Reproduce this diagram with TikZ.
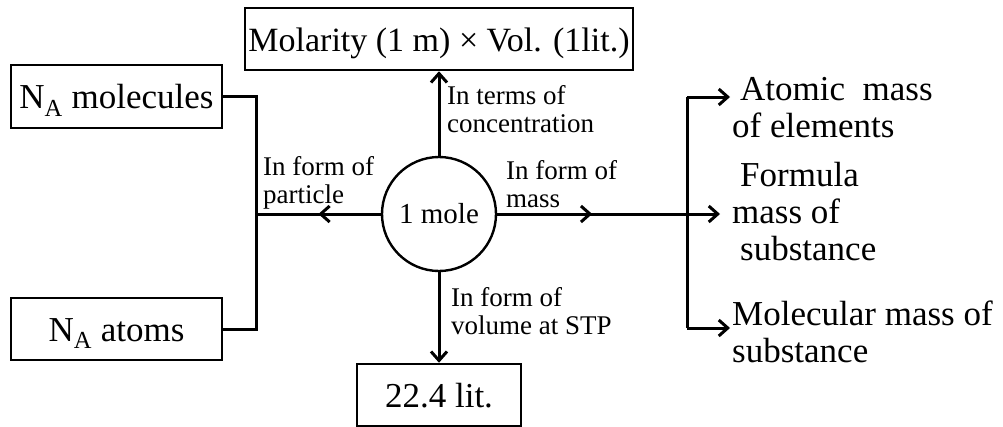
\documentclass[tikz,border=0pt]{standalone}
\usepackage{fontspec}
\setmainfont{Liberation Serif}
\usetikzlibrary{arrows.meta,decorations.markings}
\tikzset{
  box/.style={draw, line width=2.5pt, inner sep=0pt, text height=24pt, text depth=0pt,
    font=\fontsize{35}{37}\selectfont},
  ball/.style={draw, circle, line width=2.4pt, inner sep=0pt, minimum size=114pt,
    font=\fontsize{29}{30}\selectfont},
  link/.style={line width=3pt},
  barb/.tip={Straight Barb[length=9pt,width=16pt]},
  tipped/.style={link, -barb},
  midtip/.style={link, postaction={decorate},
    decoration={markings, mark=at position #1 with {\arrow{barb}}}},
  % multi-line texts are placed by the baseline of their last line
  lbl/.style={font=\fontsize{27}{28}\selectfont, align=left, anchor=base west, inner sep=0pt},
  rtxt/.style={font=\fontsize{35}{37}\selectfont, align=left, anchor=base west, inner sep=0pt},
}
\begin{document}
\begin{tikzpicture}[x=1pt, y=-1pt]
\useasboundingbox (0,0) rectangle (1003,426);

% central quantity and the four boxes around it
\node[ball] (mole) at (439,214) {1 mole};
\node[box, minimum width=388pt, minimum height=62pt, font=\fontsize{34}{36}\selectfont] (molar) at (439,39) {Molarity (1 m) × Vol. (1lit.)};
\node[box, minimum width=211pt, minimum height=63pt] (namol) at (116.5,96.5) {N\textsubscript{A} molecules};
\node[box, minimum width=211pt, minimum height=62pt] (naat) at (116.5,329) {N\textsubscript{A} atoms};
\node[box, minimum width=164pt, minimum height=62pt] (vol) at (439,395) {22.4 lit.};

% mass-type texts on the right
\node[rtxt] (atomic) at (732,137) {\hspace{8pt}Atomic\ \ mass\\of elements};
\node[rtxt] (formula) at (732,260) {\hspace{8pt}Formula\\mass of\\\hspace{8pt}substance};
\node[rtxt] (molec) at (732,362) {Molecular mass of\\substance};

% branch labels
\node[lbl] (lconc) at (447,132) {In terms of\\concentration};
\node[lbl] (lmass) at (506,207) {In form of\\mass};
\node[lbl] (lpart) at (263,203) {In form of\\particle};
\node[lbl] (lvol) at (451,334) {In form of\\volume at STP};

% junction points of the two brackets
\coordinate (jl) at (256,214);
\coordinate (jlt) at (256,96.5);
\coordinate (jlb) at (256,329);
\coordinate (jr) at (687,214);
\coordinate (jrt) at (687,97);
\coordinate (jrb) at (687,328);
\coordinate (ta) at (730,97);
\coordinate (tf) at (720,214);
\coordinate (tm) at (730,328);

% vertical branches
\draw[tipped] (mole.north) -- (molar.south);
\draw[tipped] (mole.south) -- (vol.north);

% particle branch to the left bracket
\draw[midtip=0.5] (mole.west) -- (jl);
\draw[link] (namol.east) -- (jlt) -- (jlb) -- (naat.east);

% mass branch to the right bracket
\draw[midtip=95pt] (mole.east) -- (jr);
\draw[tipped] (jr) -- (tf);
\draw[tipped] (jrt) -- (ta);
\draw[tipped] (jrb) -- (tm);
\draw[link] (jrt) -- (jrb);
\end{tikzpicture}
\end{document}
